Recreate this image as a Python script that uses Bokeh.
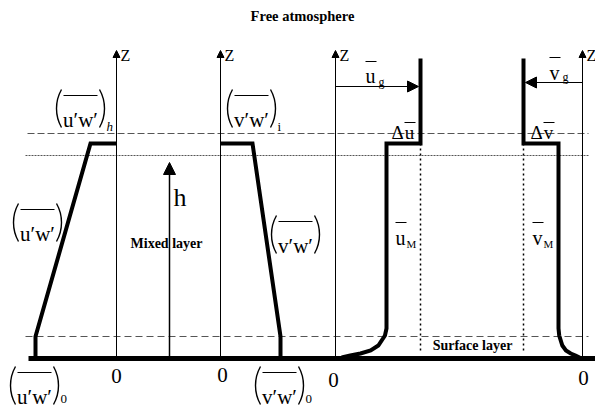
import math

from bokeh.plotting import figure
from bokeh.models import Range1d, Arrow, NormalHead
from bokeh.core.properties import value
from bokeh.embed import file_html
from bokeh.resources import INLINE

# Heights of the boundary-layer levels (schematic units, ground = 0)
Z_GROUND = 0
Z_SURFACE = 22       # top of the surface layer
Z_H = 203            # top of the mixed layer, h
Z_JUMP = 215         # level of the jump across the entrainment zone
Z_FREE = 225         # base of the free atmosphere
Z_AXIS = 308         # top of the height axes
Z_WIND_TOP = 300     # top of the wind profiles
Z_UG = 272           # level of the geostrophic u arrow
Z_VG = 276           # level of the geostrophic v arrow

# Horizontal origin of each panel: u'w', v'w', u, v
PANEL_X = [116, 220, 335, 582]

# Momentum-flux profiles (offset from the panel origin) against height
uw_flux = [-81, -81, -26, 0]
uw_z = [0, 22, 215, 215]
vw_flux = [0, 32, 60, 60]
vw_z = [215, 215, 22, 0]

# Mean wind components: geostrophic and mixed-layer values
U_G, U_M = 85, 51
V_G, V_M = -59, -24

# Surface-layer shape: fraction of the mixed-layer wind against height
sl_z = [30, 23, 13, 8, 5, 3, 1]
sl_frac = [1.0, 0.97, 0.84, 0.69, 0.49, 0.29, 0.12]

FONT = value("Liberation Serif")

p = figure(width=595, height=409, x_range=Range1d(0, 595), y_range=Range1d(-51, 358),
           output_backend="svg", toolbar_location=None, x_axis_type=None, y_axis_type=None,
           min_border=0, min_border_left=0, min_border_right=0,
           min_border_top=0, min_border_bottom=0)
p.grid.visible = False
p.outline_line_color = None
p.background_fill_color = "white"
p.border_fill_color = "white"


def txt(x, y, s, size, align="center", baseline="middle", style="normal"):
    p.text(x=[x], y=[y], text=[s], text_font=FONT, text_font_size=f"{size}px",
           text_font_style=style, text_align=align, text_baseline=baseline,
           text_color="black")


def overbar(x0, x1, y, width=1.2):
    p.segment(x0=[x0], y0=[y], x1=[x1], y1=[y], line_color="black", line_width=width)


def flux_label(cx, cz, letter, sub=None, sub_style="normal", sub_drop=18):
    # Large parentheses drawn as thin arcs around an overlined covariance
    hw, half_h, sag = 24, 19, 5
    r = (half_h ** 2 + sag ** 2) / (2 * sag)
    a = math.asin(half_h / r)
    p.arc(x=[cx - hw + r], y=[cz], radius=r, start_angle=math.pi - a, end_angle=math.pi + a,
          line_color="black", line_width=1.4)
    p.arc(x=[cx + hw - r], y=[cz], radius=r, start_angle=-a, end_angle=a,
          line_color="black", line_width=1.4)
    txt(cx, cz - 11, f"{letter}\u2032w\u2032", 21, baseline="alphabetic")
    overbar(cx - 17, cx + 17, cz + 13)
    if sub is not None:
        txt(cx + hw + 2, cz - sub_drop, sub, 13, align="left", baseline="alphabetic",
            style=sub_style)


# Reference levels
p.line([27, 588], [Z_FREE, Z_FREE], line_color="#555555", line_width=1, line_dash="7 3")
p.line([25, 588], [Z_H, Z_H], line_color="#555555", line_width=1, line_dash="2 1")
p.line([25, 588], [Z_SURFACE, Z_SURFACE], line_color="#555555", line_width=1, line_dash="7 4")

# Height axes with arrowheads
for x0 in PANEL_X:
    p.add_layout(Arrow(end=NormalHead(size=7, fill_color="black", line_color="black"),
                       x_start=x0, y_start=Z_GROUND, x_end=x0, y_end=Z_AXIS,
                       line_color="black", line_width=1))

# Mixed-layer depth arrow
p.add_layout(Arrow(end=NormalHead(size=12, fill_color="black", line_color="black"),
                   x_start=169, y_start=Z_GROUND, x_end=169, y_end=Z_H - 7,
                   line_color="black", line_width=1.5))

# Flux profiles
p.line([PANEL_X[0] + v for v in uw_flux], uw_z, line_color="black", line_width=4,
       line_join="miter")
p.line([PANEL_X[1] + v for v in vw_flux], vw_z, line_color="black", line_width=4,
       line_join="miter")

# Wind profiles
u_x = [U_G, U_G, U_M] + [U_M * f for f in sl_frac]
u_z = [Z_WIND_TOP, Z_JUMP, Z_JUMP] + sl_z
p.line([PANEL_X[2] + v for v in u_x], u_z, line_color="black", line_width=4, line_join="miter")
v_x = [V_G, V_G, V_M] + [V_M * f for f in sl_frac]
p.line([PANEL_X[3] + v for v in v_x], u_z, line_color="black", line_width=4, line_join="miter")

# Geostrophic values projected down
p.line([PANEL_X[2] + U_G] * 2, [Z_JUMP, 6], line_color="black", line_width=1.5, line_dash="2 3")
p.line([PANEL_X[3] + V_G] * 2, [Z_JUMP, 6], line_color="black", line_width=1.5, line_dash="2 3")

# Geostrophic wind arrows
p.add_layout(Arrow(end=NormalHead(size=11, fill_color="black", line_color="black"),
                   x_start=PANEL_X[2], y_start=Z_UG, x_end=PANEL_X[2] + U_G - 2, y_end=Z_UG,
                   line_color="black", line_width=1))
p.add_layout(Arrow(end=NormalHead(size=11, fill_color="black", line_color="black"),
                   x_start=PANEL_X[3], y_start=Z_VG, x_end=PANEL_X[3] + V_G + 2, y_end=Z_VG,
                   line_color="black", line_width=1))

# Ground
p.line([28, 595], [Z_GROUND, Z_GROUND], line_color="black", line_width=5)

# Titles of layers
txt(302, 343, "Free atmosphere", 14.5, style="bold")
txt(166, 115, "Mixed layer", 14, style="bold")
txt(472, 13, "Surface layer", 14, style="bold")

# Axis names
for x0 in PANEL_X:
    txt(x0 + 4, 303, "Z", 16, align="left")

# Zeros at each axis foot
txt(116, -17, "0", 21)
txt(222, -16, "0", 21)
txt(333, -21, "0", 21)
txt(583, -19, "0", 21)

txt(173, 161, "h", 26, align="left")

# Flux labels
flux_label(80, 250, "u", "h", sub_style="italic")
flux_label(251, 250, "v", "i")
flux_label(37, 136, "u")
flux_label(295, 124, "v")
flux_label(34, -27, "u", "0", sub_drop=13)
flux_label(279, -27, "v", "0", sub_drop=13)

# Wind labels
txt(370, 283, "u", 20, baseline="alphabetic")
overbar(365, 376, 297)
txt(378, 277, "g", 12, align="left", baseline="alphabetic")

txt(554, 286, "v", 20, baseline="alphabetic")
overbar(549, 560, 301)
txt(562, 282, "g", 12, align="left", baseline="alphabetic")

txt(397, 226, "\u0394", 19, baseline="alphabetic")
txt(409, 226, "u", 19, baseline="alphabetic")
overbar(404, 415, 236)

txt(536, 226, "\u0394", 19, baseline="alphabetic")
txt(548, 226, "v", 19, baseline="alphabetic")
overbar(543, 554, 236)

txt(400, 121, "u", 20, baseline="alphabetic")
overbar(395, 406, 136)
txt(406, 115, "M", 11, align="left", baseline="alphabetic")

txt(537, 121, "v", 20, baseline="alphabetic")
overbar(532, 543, 136)
txt(543, 115, "M", 11, align="left", baseline="alphabetic")

open("out.html", "w").write(file_html(p, INLINE))
